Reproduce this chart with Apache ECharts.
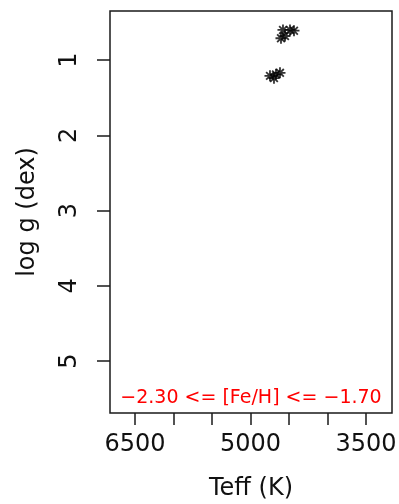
<!DOCTYPE html>
<html>
<head>
<meta charset="utf-8">
<script src="https://cdn.jsdelivr.net/npm/echarts@6/dist/echarts.min.js"></script>
<style>
  html, body { margin: 0; padding: 0; background: #fff; }
  #chart { width: 399px; height: 504px; }
</style>
</head>
<body>
<div id="chart"></div>
<script>
// Stars in the metallicity bin: effective temperature (K) and surface gravity (dex)
const teff = [4578, 4487, 4435, 4604, 4552, 4747, 4669, 4617, 4695];
const logg = [0.60, 0.60, 0.61, 0.71, 0.68, 1.21, 1.19, 1.17, 1.24];

// Axis ticks and labels
const teffTicks = [6500, 6000, 5500, 5000, 4500, 4000, 3500];
const teffLabels = [6500, 5000, 3500];
const loggTicks = [1, 2, 3, 4, 5];

const binLabel = '\u22122.30 <= [Fe/H] <= \u22121.70';

const points = teff.map((t, i) => [t, logg[i]]);

const font = 'DejaVu Sans';
const chart = echarts.init(document.getElementById('chart'), null, { renderer: 'canvas' });

chart.setOption({
  animation: false,
  backgroundColor: '#ffffff',
  grid: {
    left: 110, right: 7, top: 11, bottom: 91,
    outerBoundsMode: 'none',
    containLabel: false,
    show: true, borderColor: '#1a1a1a', borderWidth: 1.5, backgroundColor: 'transparent'
  },
  xAxis: {
    type: 'value',
    inverse: true,
    min: 3162, max: 6825,
    axisLine: { show: false },
    splitLine: { show: false },
    axisTick: {
      show: true, inside: false, length: 12,
      customValues: teffTicks,
      lineStyle: { color: '#1a1a1a', width: 1.5 }
    },
    axisLabel: {
      customValues: teffLabels,
      formatter: v => String(v),
      margin: 20,
      hideOverlap: false,
      color: '#111', fontFamily: font, fontSize: 24
    },
    name: 'Teff (K)',
    nameLocation: 'middle',
    nameGap: 64,
    nameTextStyle: { color: '#111', fontFamily: font, fontSize: 24 }
  },
  yAxis: {
    type: 'value',
    inverse: true,
    min: 0.348, max: 5.69,
    axisLine: { show: false },
    splitLine: { show: false },
    axisTick: {
      show: true, inside: false, length: 13,
      customValues: loggTicks,
      lineStyle: { color: '#1a1a1a', width: 1.5 }
    },
    axisLabel: {
      customValues: loggTicks,
      formatter: v => String(v),
      rotate: 90,
      margin: 28,
      color: '#111', fontFamily: font, fontSize: 24
    },
    name: 'log g (dex)',
    nameLocation: 'middle',
    nameRotate: 90,
    nameGap: 70,
    nameTextStyle: { color: '#111', fontFamily: font, fontSize: 24 }
  },
  series: [{
    type: 'scatter',
    data: points,
    symbol: 'path://M0,5L10,5M5,0L5,10M1.5,1.5L8.5,8.5M8.5,1.5L1.5,8.5',
    symbolSize: 11,
    itemStyle: { color: 'rgba(0,0,0,0)', borderColor: '#000', borderWidth: 1.8 }
  }],
  graphic: [{
    type: 'text',
    x: 251, y: 398,
    style: {
      text: binLabel,
      fill: '#ff0000',
      font: '19px "DejaVu Sans"',
      textAlign: 'center',
      textVerticalAlign: 'middle'
    }
  }]
});
</script>
</body>
</html>
